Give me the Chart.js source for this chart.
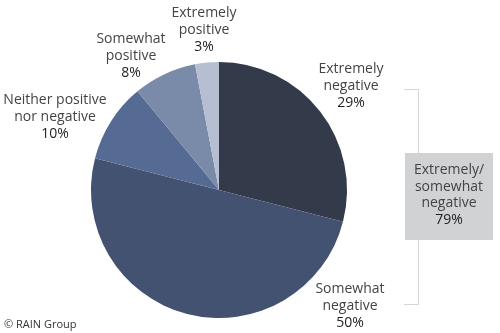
<!DOCTYPE html>
<html>
<head>
<meta charset="utf-8">
<script src="https://cdn.jsdelivr.net/npm/chart.js@4"></script>
<style>
  html, body { margin: 0; padding: 0; background: #fff; }
  #wrap { width: 500px; height: 333px; position: relative; }
</style>
</head>
<body>
<div id="wrap"><canvas id="pie"></canvas></div>
<script>
// --- data ---
const categories = [
    ["Extremely", "negative"],
    ["Somewhat", "negative"],
    ["Neither positive", "nor negative"],
    ["Somewhat", "positive"],
    ["Extremely", "positive"],
];
const shares = [29, 50, 10, 8, 3];
const sliceColors = ["#333b4b", "#435271", "#556b94", "#7a8aa9", "#b6bfd2"];
const summaryLines = ["Extremely/", "somewhat", "negative"];
const summaryValue = 79;

// where each label block sits (centre x, first line y)
const labelSpots = [
    { x: 351, y: 69 },
    { x: 350, y: 289 },
    { x: 55, y: 100 },
    { x: 131, y: 39 },
    { x: 204, y: 13 },
];

const FONT = '"Open Sans", "Noto Sans", sans-serif';
const LINE = 17;

// draws the slice labels, the bracket box and the source line
const annotations = {
    id: "annotations",
    afterDraw(chart) {
        const ctx = chart.ctx;
        ctx.save();
        ctx.textAlign = "center";
        ctx.textBaseline = "middle";

        categories.forEach((lines, i) => {
            const spot = labelSpots[i];
            ctx.font = "14px " + FONT;
            ctx.fillStyle = "#444";
            lines.forEach((t, j) => ctx.fillText(t, spot.x, spot.y + j * LINE));
            ctx.fillStyle = "#1e1e1e";
            ctx.fillText(shares[i] + "%", spot.x, spot.y + lines.length * LINE);
        });

        // bracket
        ctx.strokeStyle = "#d6d6d6";
        ctx.lineWidth = 1;
        ctx.beginPath();
        ctx.moveTo(404, 89.5);
        ctx.lineTo(418.5, 89.5);
        ctx.lineTo(418.5, 304.5);
        ctx.lineTo(404, 304.5);
        ctx.stroke();

        // summary box
        ctx.fillStyle = "#d1d2d4";
        ctx.fillRect(405, 153, 88, 87);
        ctx.font = "14px " + FONT;
        ctx.fillStyle = "#444";
        summaryLines.forEach((t, j) => ctx.fillText(t, 449, 170 + j * 16.7));
        ctx.fillStyle = "#1e1e1e";
        ctx.fillText(summaryValue + "%", 449, 170 + summaryLines.length * 16.7);

        // source
        ctx.textAlign = "left";
        ctx.font = "11px " + FONT;
        ctx.fillStyle = "#333";
        ctx.fillText("\u00A9 RAIN Group", 4, 325);
        ctx.restore();
    }
};

new Chart(document.getElementById("pie"), {
    type: "pie",
    data: {
        labels: categories.map(c => c.join(" ")),
        datasets: [{
            data: shares,
            backgroundColor: sliceColors,
            borderWidth: 0,
        }]
    },
    options: {
        responsive: true,
        maintainAspectRatio: false,
        animation: false,
        layout: { padding: { left: 91, right: 153, top: 62, bottom: 15 } },
        plugins: {
            legend: { display: false },
            tooltip: { enabled: false },
        }
    },
    plugins: [annotations]
});
</script>
</body>
</html>
